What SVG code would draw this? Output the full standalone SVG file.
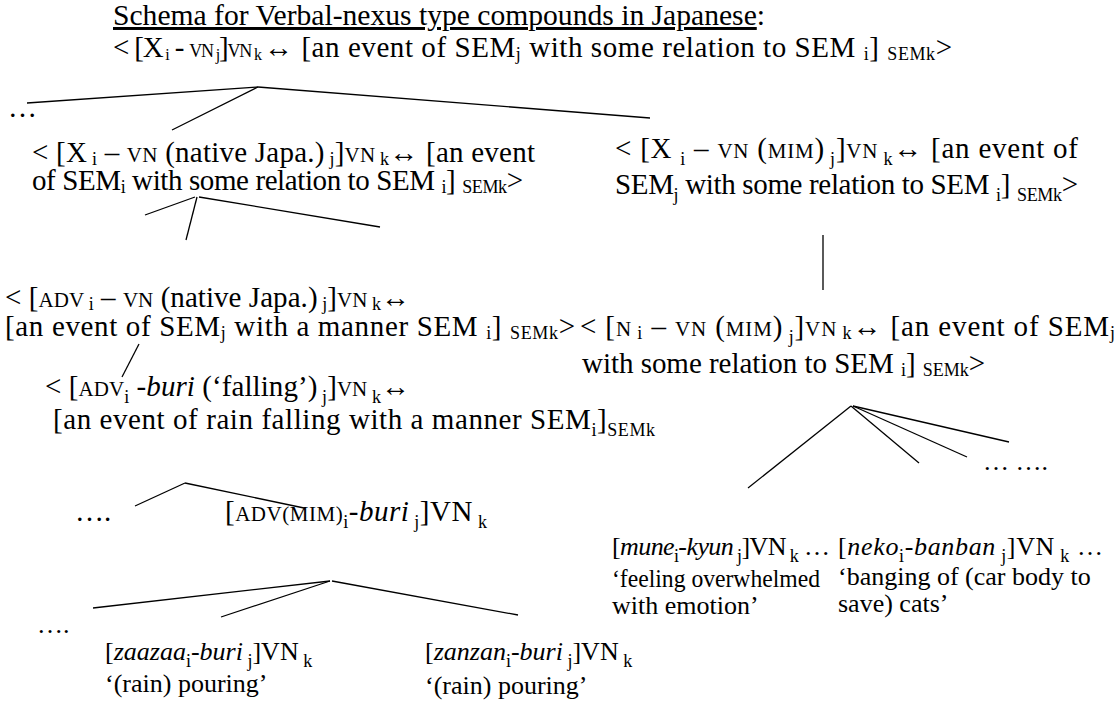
<svg xmlns="http://www.w3.org/2000/svg" width="1118" height="709" viewBox="0 0 1118 709">
  <style>
    text { font-family: 'Liberation Serif', 'Times New Roman', serif; font-size: 29px; fill: #000; }
    .title { font-size: 29.6px; }
    .ex { font-size: 26px; }
    .sc { font-size: 21px; }
    .sc2 { font-size: 18px; }
    .s { font-size: 18px; baseline-shift: -3px; }
    .s2 { font-size: 16px; baseline-shift: -3px; }
    .d { font-size: 18px; baseline-shift: -7px; }
    .it { font-style: italic; }
    .conn line { stroke: #000; stroke-width: 1.3; fill: none; }
  </style>
  <rect width="1118" height="709" fill="#fff"/>

  <!-- tree branches -->
  <g class="conn" id="connectors">
    <line x1="258" y1="87" x2="27" y2="103"/>
    <line x1="258" y1="87" x2="172" y2="130"/>
    <line x1="258" y1="87" x2="650" y2="118"/>
    <line x1="195" y1="197" x2="145" y2="215"/>
    <line x1="197" y1="197" x2="186" y2="240"/>
    <line x1="199" y1="197" x2="380" y2="227"/>
    <line x1="823" y1="235" x2="823" y2="290"/>
    <line x1="139" y1="344" x2="122" y2="377"/>
    <line x1="185" y1="483" x2="135" y2="506"/>
    <line x1="185" y1="483" x2="304" y2="508"/>
    <line x1="330" y1="581" x2="93" y2="608"/>
    <line x1="330" y1="581" x2="221" y2="617"/>
    <line x1="332" y1="581" x2="518" y2="615"/>
    <line x1="851" y1="406" x2="748" y2="488"/>
    <line x1="851" y1="406" x2="919" y2="463"/>
    <line x1="853" y1="406" x2="967" y2="457"/>
    <line x1="853" y1="406" x2="1009" y2="442"/>
  </g>

  <!-- general schema -->
  <g id="root">
    <text class="title" x="113" y="25"><tspan text-decoration="underline">Schema for Verbal-nexus type compounds in Japanese</tspan>:</text>
    <text x="113" y="57" textLength="149" lengthAdjust="spacing">&lt; [X<tspan class="s2"> i</tspan> - <tspan class="sc2">VN</tspan><tspan class="s2"> j</tspan>]<tspan class="sc2">VN</tspan><tspan class="s2"> k</tspan></text>
    <text x="264" y="57" textLength="688" lengthAdjust="spacing">↔ [an event of SEM<tspan class="s">j</tspan> with some relation to SEM <tspan class="s">i</tspan>] <tspan class="s">SEMk</tspan>&gt;</text>
  </g>
  <text x="8" y="117">…</text>

  <g id="native">
    <text x="32" y="162" textLength="503" lengthAdjust="spacing">&lt; [X<tspan class="s"> i</tspan> – <tspan class="sc">VN</tspan> (native Japa.)<tspan class="s"> j</tspan>]<tspan class="sc">VN</tspan><tspan class="s"> k</tspan>↔ [an event</text>
    <text x="32" y="190" textLength="491" lengthAdjust="spacing">of SEM<tspan class="s">i</tspan> with some relation to SEM <tspan class="s">i</tspan>] <tspan class="s">SEMk</tspan>&gt;</text>
  </g>

  <g id="mimetic">
    <text x="615" y="158" textLength="463" lengthAdjust="spacing">&lt; [X <tspan class="d">i</tspan> – <tspan class="sc">VN</tspan> (<tspan class="sc">MIM</tspan>)<tspan class="d"> j</tspan>]<tspan class="sc">VN</tspan><tspan class="d"> k</tspan>↔ [an event of</text>
    <text x="615" y="194" textLength="463" lengthAdjust="spacing">SEM<tspan class="d">j</tspan> with some relation to SEM <tspan class="d">i</tspan>] <tspan class="d">SEMk</tspan>&gt;</text>
  </g>

  <g id="adv-native">
    <text x="5" y="307" textLength="405" lengthAdjust="spacing">&lt; [<tspan class="sc">ADV</tspan><tspan class="s"> i</tspan> – <tspan class="sc">VN</tspan> (native Japa.)<tspan class="s"> j</tspan>]<tspan class="sc">VN</tspan><tspan class="s"> k</tspan>↔</text>
    <text x="5" y="336" textLength="570" lengthAdjust="spacing">[an event of SEM<tspan class="s">j</tspan> with a manner SEM <tspan class="s">i</tspan>] <tspan class="s">SEMk</tspan>&gt;</text>
  </g>

  <g id="noun-mimetic">
    <text x="580" y="336" textLength="535" lengthAdjust="spacing">&lt; [<tspan class="sc">N</tspan><tspan class="s"> i</tspan> – <tspan class="sc">VN</tspan> (<tspan class="sc">MIM</tspan>)<tspan class="d"> j</tspan>]<tspan class="sc">VN</tspan><tspan class="s"> k</tspan>↔ [an event of SEM<tspan class="s">j</tspan></text>
    <text x="582" y="373" textLength="403" lengthAdjust="spacing">with some relation to SEM <tspan class="s">i</tspan>] <tspan class="s">SEMk</tspan>&gt;</text>
  </g>

  <g id="buri">
    <text x="45" y="396" textLength="365" lengthAdjust="spacing">&lt; [<tspan class="sc">ADV</tspan><tspan class="d">i</tspan> <tspan class="it">-buri</tspan> (‘falling’)<tspan class="d"> j</tspan>]<tspan class="sc">VN</tspan><tspan class="d"> k</tspan>↔</text>
    <text x="53" y="429" textLength="602" lengthAdjust="spacing">[an event of rain falling with a manner SEM<tspan class="d">i</tspan>]<tspan class="d">SEMk</tspan></text>
  </g>

  <text x="75" y="521">….</text>
  <g id="buri-mim">
    <text x="225" y="521" textLength="262" lengthAdjust="spacing">[<tspan class="sc">ADV(MIM)</tspan><tspan class="d">i</tspan><tspan class="it">-buri</tspan><tspan class="d"> j</tspan>]VN<tspan class="d"> k</tspan></text>
  </g>

  <text class="ex" x="37" y="633">….</text>
  <g id="zaazaa">
    <text class="ex" x="105" y="660">[<tspan class="it">zaazaa</tspan><tspan class="d">i</tspan><tspan class="it">-buri</tspan><tspan class="d"> j</tspan>]VN<tspan class="d"> k</tspan></text>
    <text class="ex" x="105" y="692">‘(rain) pouring’</text>
  </g>
  <g id="zanzan">
    <text class="ex" x="425" y="660">[<tspan class="it">zanzan</tspan><tspan class="d">i</tspan><tspan class="it">-buri</tspan><tspan class="d"> j</tspan>]VN<tspan class="d"> k</tspan></text>
    <text class="ex" x="425" y="694">‘(rain) pouring’</text>
  </g>

  <text class="ex" x="983" y="470">…  ….</text>
  <g id="mune-kyun">
    <text class="ex" x="612" y="555" textLength="218" lengthAdjust="spacing">[<tspan class="it">mune</tspan><tspan class="d">i</tspan><tspan class="it">-kyun</tspan><tspan class="d"> j</tspan>]VN<tspan class="d"> k</tspan> …</text>
    <text class="ex" x="612" y="587" textLength="208" lengthAdjust="spacingAndGlyphs">‘feeling overwhelmed</text>
    <text class="ex" x="612" y="614">with emotion’</text>
  </g>
  <g id="neko-banban">
    <text class="ex" x="838" y="555" textLength="265" lengthAdjust="spacing">[<tspan class="it">neko</tspan><tspan class="d">i</tspan><tspan class="it">-banban</tspan><tspan class="d"> j</tspan>]VN<tspan class="d"> k</tspan> …</text>
    <text class="ex" x="838" y="585">‘banging of (car body to</text>
    <text class="ex" x="838" y="612">save) cats’</text>
  </g>
</svg>
